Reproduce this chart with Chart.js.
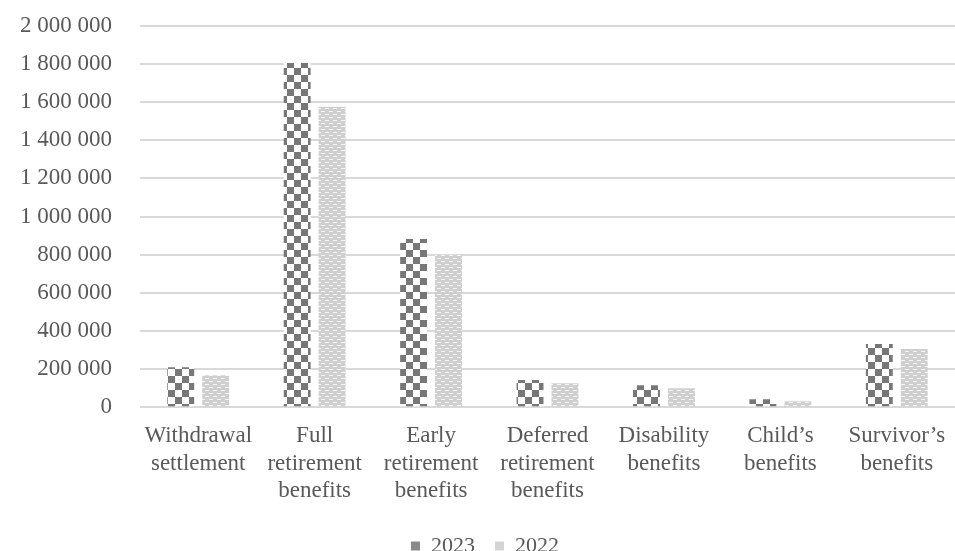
<!DOCTYPE html>
<html>
<head>
<meta charset="utf-8">
<script src="https://cdn.jsdelivr.net/npm/chart.js@4.4.1/dist/chart.umd.min.js"></script>
<style>
  html, body { margin: 0; padding: 0; background: #fff; overflow: hidden; }
  #page { width: 955px; height: 551px; overflow: hidden; position: relative; }
  #wrap { width: 955px; height: 567px; position: absolute; top: -16px; left: 0; }
</style>
</head>
<body>
<div id="page"><div id="wrap"><canvas id="chart"></canvas></div></div>
<script>
var categories = [
  ['Withdrawal', 'settlement'],
  ['Full', 'retirement', 'benefits'],
  ['Early', 'retirement', 'benefits'],
  ['Deferred', 'retirement', 'benefits'],
  ['Disability', 'benefits'],
  ['Child\u2019s', 'benefits'],
  ['Survivor\u2019s', 'benefits']
];
var values2023 = [210000, 1805000, 882000, 142000, 115000, 42000, 331000];
var values2022 = [168000, 1575000, 798000, 126000, 100000, 31000, 305000];
var seriesLabels = ['2023', '2022'];

// checkerboard fill for 2023
function checkerPattern() {
  var c = document.createElement('canvas');
  c.width = 14; c.height = 14;
  var g = c.getContext('2d');
  g.fillStyle = '#ffffff';
  g.fillRect(0, 0, 14, 14);
  g.fillStyle = '#777777';
  g.fillRect(0, 0, 7, 7);
  g.fillRect(7, 7, 7, 7);
  return g.createPattern(c, 'repeat');
}

// light grey brick-like fill for 2022
function brickPattern() {
  var c = document.createElement('canvas');
  c.width = 8; c.height = 6;
  var g = c.getContext('2d');
  g.fillStyle = '#cfcfcf';
  g.fillRect(0, 0, 8, 6);
  g.fillStyle = '#f4f4f4';
  g.fillRect(1, 1, 4, 1);
  g.fillRect(5, 4, 3, 1);
  g.fillRect(0, 4, 1, 1);
  return g.createPattern(c, 'repeat');
}

function spaced(v) {
  return String(v).replace(/\B(?=(\d{3})+(?!\d))/g, ' ');
}

var legendSwatches = ['#8a8a8a', '#d4d4d4'];

Chart.defaults.font.family = '"Liberation Serif", "Times New Roman", serif';
Chart.defaults.color = '#595959';

var ctx = document.getElementById('chart').getContext('2d');
var chart = new Chart(ctx, {
  type: 'bar',
  data: {
    labels: categories,
    datasets: [{
      label: seriesLabels[0],
      data: values2023,
      backgroundColor: checkerPattern(),
      categoryPercentage: 0.6,
      barPercentage: 0.77
    }, {
      label: seriesLabels[1],
      data: values2022,
      backgroundColor: brickPattern(),
      categoryPercentage: 0.6,
      barPercentage: 0.77
    }]
  },
  options: {
    responsive: true,
    maintainAspectRatio: false,
    animation: false,
    layout: { padding: { top: 0, right: 0, left: 15, bottom: -16 } },
    plugins: {
      tooltip: { enabled: false },
      legend: {
        position: 'bottom',
        labels: {
          boxWidth: 9,
          boxHeight: 9,
          padding: 20,
          font: { size: 22 },
          color: '#595959',
          generateLabels: function (ch) {
            return ch.data.datasets.map(function (ds, i) {
              return {
                text: ds.label,
                fillStyle: legendSwatches[i],
                strokeStyle: legendSwatches[i],
                lineWidth: 0,
                fontColor: '#595959',
                datasetIndex: i
              };
            });
          }
        }
      }
    },
    scales: {
      x: {
        grid: { display: false },
        border: { display: false },
        afterFit: function (axis) { axis.height += 3; },
        ticks: {
          font: { size: 23, lineHeight: 1.2 },
          color: '#595959',
          maxRotation: 0,
          autoSkip: false,
          padding: 7
        }
      },
      y: {
        min: 0,
        max: 2000000,
        grid: { color: '#d9d9d9', lineWidth: 2, drawTicks: false },
        border: { display: false },
        afterFit: function (axis) { axis.width = 125; },
        ticks: {
          stepSize: 200000,
          padding: 28,
          font: { size: 23 },
          color: '#595959',
          callback: function (v) { return spaced(v); }
        }
      }
    }
  }
});
</script>
</body>
</html>
